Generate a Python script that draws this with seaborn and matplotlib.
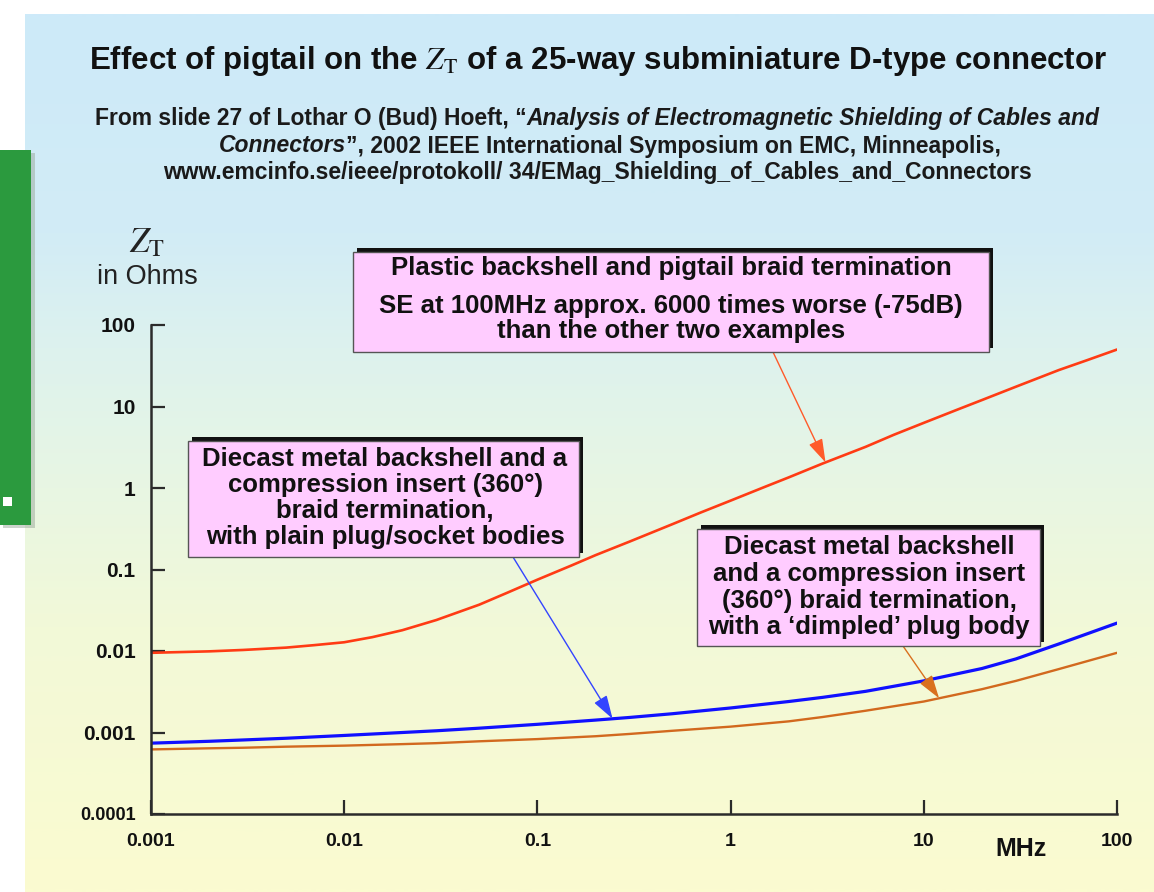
import numpy as np
import pandas as pd
import matplotlib
matplotlib.use("Agg")
import matplotlib.pyplot as plt
import seaborn as sns
from matplotlib.colors import LinearSegmentedColormap
from matplotlib.patches import Rectangle

# ---------------- data ----------------
freq_red = [0.001, 0.002, 0.003, 0.005, 0.007, 0.01, 0.014, 0.02, 0.03, 0.05, 0.07, 0.1, 0.15,
            0.2, 0.3, 0.5, 0.7, 1, 1.5, 2, 3, 5, 7, 10, 15, 20, 30, 50, 70, 100]
z_red = [0.0095, 0.0099, 0.0103, 0.011, 0.0118, 0.0128, 0.0148, 0.018, 0.024, 0.037, 0.052, 0.075,
         0.112, 0.15, 0.22, 0.36, 0.5, 0.7, 1.03, 1.35, 2.0, 3.2, 4.5, 6.3, 9.2, 12, 17.5, 28, 37, 50]

freq_blue = [0.001, 0.002, 0.003, 0.005, 0.01, 0.02, 0.03, 0.05, 0.1, 0.2, 0.3, 0.5,
             1, 2, 3, 5, 10, 20, 30, 50, 100]
z_blue = [0.00074, 0.00078, 0.00081, 0.00085, 0.00092, 0.0010, 0.00105, 0.00113, 0.00126, 0.00142,
          0.00153, 0.00170, 0.0020, 0.0024, 0.0027, 0.0032, 0.0043, 0.0061, 0.0080, 0.0122, 0.022]

freq_orange = [0.001, 0.002, 0.003, 0.005, 0.01, 0.02, 0.03, 0.05, 0.1, 0.2, 0.3, 0.5,
               1, 2, 3, 5, 10, 20, 30, 50, 100]
z_orange = [0.00062, 0.00064, 0.00065, 0.00067, 0.00069, 0.00072, 0.00074, 0.00078, 0.00083, 0.0009,
            0.00096, 0.00105, 0.00118, 0.00137, 0.00155, 0.00185, 0.0024, 0.0034, 0.0043, 0.0060, 0.0095]

series_names = ["Plastic backshell, pigtail", "Diecast, plain bodies", "Diecast, dimpled body"]
series_colors = ["#ff3b14", "#1010ff", "#d2691e"]

x_ticks = [0.001, 0.01, 0.1, 1, 10, 100]
x_tick_labels = ["0.001", "0.01", "0.1", "1", "10", "100"]
y_ticks = [0.0001, 0.001, 0.01, 0.1, 1, 10, 100]
y_tick_labels = ["0.0001", "0.001", "0.01", "0.1", "1", "10", "100"]

title_text = r"Effect of pigtail on the $Z_{\mathrm{T}}$ of a 25-way subminiature D-type connector"
sub_line1 = [("From slide 27 of Lothar O (Bud) Hoeft, \u201c", "normal"),
             ("Analysis of Electromagnetic Shielding of Cables and", "italic")]
sub_line2 = [("Connectors", "italic"),
             ("\u201d, 2002 IEEE International Symposium on EMC, Minneapolis,", "normal")]
sub_line3 = [("www.emcinfo.se/ieee/protokoll/ 34/EMag_Shielding_of_Cables_and_Connectors", "normal")]

box1_lines = ["Plastic backshell and pigtail braid termination",
              "SE at 100MHz approx. 6000 times worse (-75dB)",
              "than the other two examples"]
box2_lines = ["Diecast metal backshell and a",
              "compression insert (360\u00b0)",
              "braid termination,",
              "with plain plug/socket bodies"]
box3_lines = ["Diecast metal backshell",
              "and a compression insert",
              "(360\u00b0) braid termination,",
              "with a \u2018dimpled\u2019 plug body"]

# ---------------- figure ----------------
W, H = 1154, 892
sns.set_theme(style="ticks")
plt.rcParams['font.family'] = ['Liberation Sans', 'DejaVu Sans']
plt.rcParams['mathtext.fontset'] = 'stix'

fig = plt.figure(figsize=(W / 100, H / 100), dpi=100)
fig.patch.set_facecolor("white")

# gradient background panel
bg = fig.add_axes([25 / W, 0, 1 - 25 / W, (H - 14) / H], zorder=0)
cmap = LinearSegmentedColormap.from_list(
    "bg", [(0.0, "#cdeaf9"), (0.25, "#d2ecf6"), (0.38, "#ddf2ee"), (0.54, "#e8f6e3"),
           (0.7, "#f2f9d8"), (1.0, "#fbfbd0")])
grad = np.linspace(0, 1, 400)[:, None]
bg.imshow(grad, aspect="auto", cmap=cmap, extent=[0, 1, 0, 1], origin="upper")
bg.set_axis_off()

def fpx(x, y_top, w, h):
    """figure-fraction rectangle from pixel coords (top-left origin)"""
    return (x / W, (H - y_top - h) / H, w / W, h / H)

# green side panel with shadow
sx, sy, sw, sh = fpx(3, 153, 32, 375)
fig.patches.append(Rectangle((sx, sy), sw, sh, transform=fig.transFigure,
                             facecolor="#9aa89a", edgecolor="none", alpha=0.5, zorder=1))
gx, gy, gw, gh = fpx(0, 150, 31, 375)
fig.patches.append(Rectangle((gx, gy), gw, gh, transform=fig.transFigure,
                             facecolor="#2b9a3e", edgecolor="none", zorder=1.1))
wx, wy, ww, wh = fpx(3, 497, 9, 9)
fig.patches.append(Rectangle((wx, wy), ww, wh, transform=fig.transFigure,
                             facecolor="white", edgecolor="none", zorder=1.2))

# main axes
ax = fig.add_axes([151 / W, (H - 814) / H, (1117 - 151) / W, (814 - 325) / H], zorder=2)
ax.patch.set_alpha(0)

df = pd.concat([
    pd.DataFrame({"freq": freq_red, "z": z_red, "series": series_names[0]}),
    pd.DataFrame({"freq": freq_blue, "z": z_blue, "series": series_names[1]}),
    pd.DataFrame({"freq": freq_orange, "z": z_orange, "series": series_names[2]}),
])
widths = [1.9, 2.3, 1.7]
for name, col, lw in zip(series_names, series_colors, widths):
    sns.lineplot(data=df[df.series == name], x="freq", y="z", color=col, lw=lw,
                 ax=ax, legend=False, estimator=None, sort=True)

ax.set_xscale("log")
ax.set_yscale("log")
ax.set_xlim(0.001, 100)
ax.set_ylim(0.0001, 100)
ax.set_xticks(x_ticks)
ax.set_xticklabels(x_tick_labels)
ax.set_yticks(y_ticks)
ax.set_yticklabels(y_tick_labels)
ax.minorticks_off()
ax.set_xlabel("")
ax.set_ylabel("")
for s in ["top", "right"]:
    ax.spines[s].set_visible(False)
for s in ["left", "bottom"]:
    ax.spines[s].set_color("#2b2b2b")
    ax.spines[s].set_linewidth(1.8)
ax.tick_params(axis="both", direction="in", length=10, width=1.6, color="#2b2b2b",
               labelcolor="#111111")
ax.tick_params(axis="x", pad=14, labelsize=14)
ax.tick_params(axis="y", pad=11, labelsize=15)
for lbl in ax.get_xticklabels() + ax.get_yticklabels():
    lbl.set_fontweight("bold")
ax.get_yticklabels()[0].set_fontsize(13)

# axis labels
fig.text(1021 / W, (H - 849) / H, "MHz", ha="center", va="center", fontsize=18,
         fontweight="bold", color="#111111")
fig.text(147 / W, (H - 243) / H, r"$Z_{\mathrm{T}}$", ha="center", va="center",
         fontsize=25, color="#222222")
fig.text(147 / W, (H - 277) / H, "in Ohms", ha="center", va="center", fontsize=19.5,
         color="#222222")

# title
fig.text(598 / W, (H - 61) / H, title_text, ha="center", va="center", fontsize=22.5,
         fontweight="bold", color="#111111")

# subtitle with mixed italic
renderer = fig.canvas.get_renderer()
def mixed_line(segments, cx, cy, size):
    texts = []
    for s, style in segments:
        t = fig.text(0, (H - cy) / H, s, ha="left", va="center", fontsize=size,
                     fontweight="bold", style=style, color="#1a1a1a")
        texts.append(t)
    widths_px = [t.get_window_extent(renderer).width for t in texts]
    x0 = cx - sum(widths_px) / 2
    for t, w in zip(texts, widths_px):
        t.set_x(x0 / W)
        x0 += w

mixed_line(sub_line1, 597, 119, 16.5)
mixed_line(sub_line2, 610, 146, 16.5)
mixed_line(sub_line3, 597, 173, 16.5)

# annotation boxes
def pink_box(x0, y0, x1, y1, lines, ys, cx, size):
    # shadow (offset up-right)
    fig.patches.append(Rectangle(((x0 + 4) / W, (H - y1 + 4) / H), (x1 - x0) / W, (y1 - y0) / H,
                                 transform=fig.transFigure, facecolor="#111111",
                                 edgecolor="none", zorder=3))
    fig.patches.append(Rectangle((x0 / W, (H - y1) / H), (x1 - x0) / W, (y1 - y0) / H,
                                 transform=fig.transFigure, facecolor="#ffccff",
                                 edgecolor="#555555", lw=1.0, zorder=3.1))
    for s, y in zip(lines, ys):
        fig.text(cx / W, (H - y) / H, s, ha="center", va="center", fontsize=size,
                 fontweight="bold", color="#111111", zorder=3.2)

pink_box(353, 252, 989, 352, box1_lines, [268, 306, 331], 671, 18.5)
pink_box(188, 441, 579, 557, box2_lines, [459, 485, 511, 537], 385, 18.5)
pink_box(697, 529, 1040, 646, box3_lines, [547, 574, 601, 627], 869, 18.5)

# arrows pointing onto the curves
def log_interp(xq, xs, ys):
    return 10 ** np.interp(np.log10(xq), np.log10(xs), np.log10(ys))

arrow_specs = [
    (3.1, freq_red, z_red, (773, 352), "#ff5a2a"),
    (0.245, freq_blue, z_blue, (513, 557), "#3344ff"),
    (12.0, freq_orange, z_orange, (903, 646), "#d9701e"),
]
for xq, xs, ys, (tx, ty), col in arrow_specs:
    ax.annotate("", xy=(xq, log_interp(xq, xs, ys)), xycoords="data",
                xytext=(tx, H - ty), textcoords="figure pixels",
                arrowprops=dict(arrowstyle="-|>,head_length=0.8,head_width=0.25",
                                color=col, lw=1.0, mutation_scale=18,
                                shrinkA=0, shrinkB=0), zorder=2.5)

fig.savefig("out.png", dpi=100)
